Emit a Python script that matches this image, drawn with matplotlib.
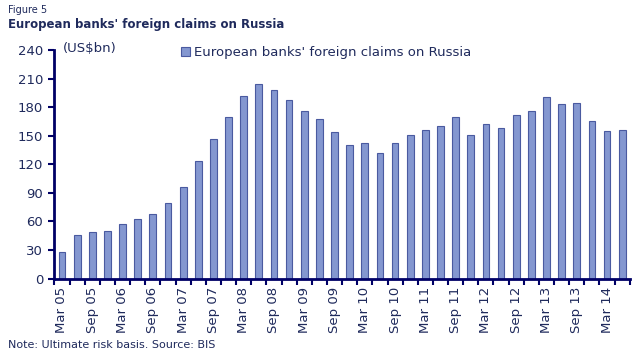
#!/usr/bin/env python3
import matplotlib
matplotlib.use("Agg")
import matplotlib.pyplot as plt
import numpy as np

# quarterly data, Mar 05 .. Jun 14
quarters = ["Mar", "Jun", "Sep", "Dec"]
years = ["05", "06", "07", "08", "09", "10", "11", "12", "13", "14"]
periods = [f"{q} {y}" for y in years for q in quarters][:38]

claims = [28, 46, 49, 50, 57, 63, 68, 79, 96, 123,
          147, 170, 192, 204, 198, 188, 176, 168, 154, 140,
          142, 132, 142, 151, 156, 160, 170, 151, 162, 158,
          172, 176, 191, 183, 184, 165, 155, 156]

yticks = [0, 30, 60, 90, 120, 150, 180, 210, 240]

navy = "#000066"
text_col = "#1f2a5c"
bar_fill = "#8497d0"
bar_edge = "#4a5aa0"

fig = plt.figure(figsize=(6.4, 3.6), dpi=100)
ax = fig.add_axes([0.085, 0.226, 0.899, 0.635])

x = np.arange(len(claims))
ax.bar(x, claims, width=0.45, color=bar_fill, edgecolor=bar_edge,
       linewidth=0.8, label="European banks' foreign claims on Russia")

ax.set_xlim(-0.5, len(claims) - 0.5)
ax.set_ylim(0, 240)
ax.set_yticks(yticks)
ax.set_yticklabels([str(v) for v in yticks], fontsize=9.5, color=text_col)

# ticks between bars, labels every second bar
ax.set_xticks(np.arange(len(claims) + 1) - 0.5, minor=False)
ax.set_xticklabels([])
ax.set_xticks(x[::2], minor=True)
ax.set_xticklabels(periods[::2], minor=True, rotation=90,
                   fontsize=9.5, color=text_col)
ax.tick_params(axis="x", which="minor", length=0, pad=6)
ax.tick_params(axis="x", which="major", length=4, width=1.5,
               color=navy, direction="out")
ax.tick_params(axis="y", length=4, width=1.5, color=navy, pad=4)

for side in ["top", "right"]:
    ax.spines[side].set_visible(False)
for side in ["left", "bottom"]:
    ax.spines[side].set_color(navy)
    ax.spines[side].set_linewidth(2)

leg = ax.legend(loc="upper left", bbox_to_anchor=(0.21, 1.04), frameon=False,
                fontsize=9.5, handlelength=0.7, handleheight=0.7,
                handletextpad=0.3, borderaxespad=0)
for t in leg.get_texts():
    t.set_color(text_col)

fig.text(0.099, 0.865, "(US$bn)", fontsize=9.5, color=text_col, va="center")
fig.text(0.013, 0.972, "Figure 5", fontsize=7, color=text_col, va="center")
fig.text(0.013, 0.932, "European banks' foreign claims on Russia",
         fontsize=8.5, fontweight="bold", color=text_col, va="center")
fig.text(0.013, 0.042, "Note: Ultimate risk basis. Source: BIS",
         fontsize=8, color=text_col, va="center")

fig.savefig("out.png", dpi=100)
